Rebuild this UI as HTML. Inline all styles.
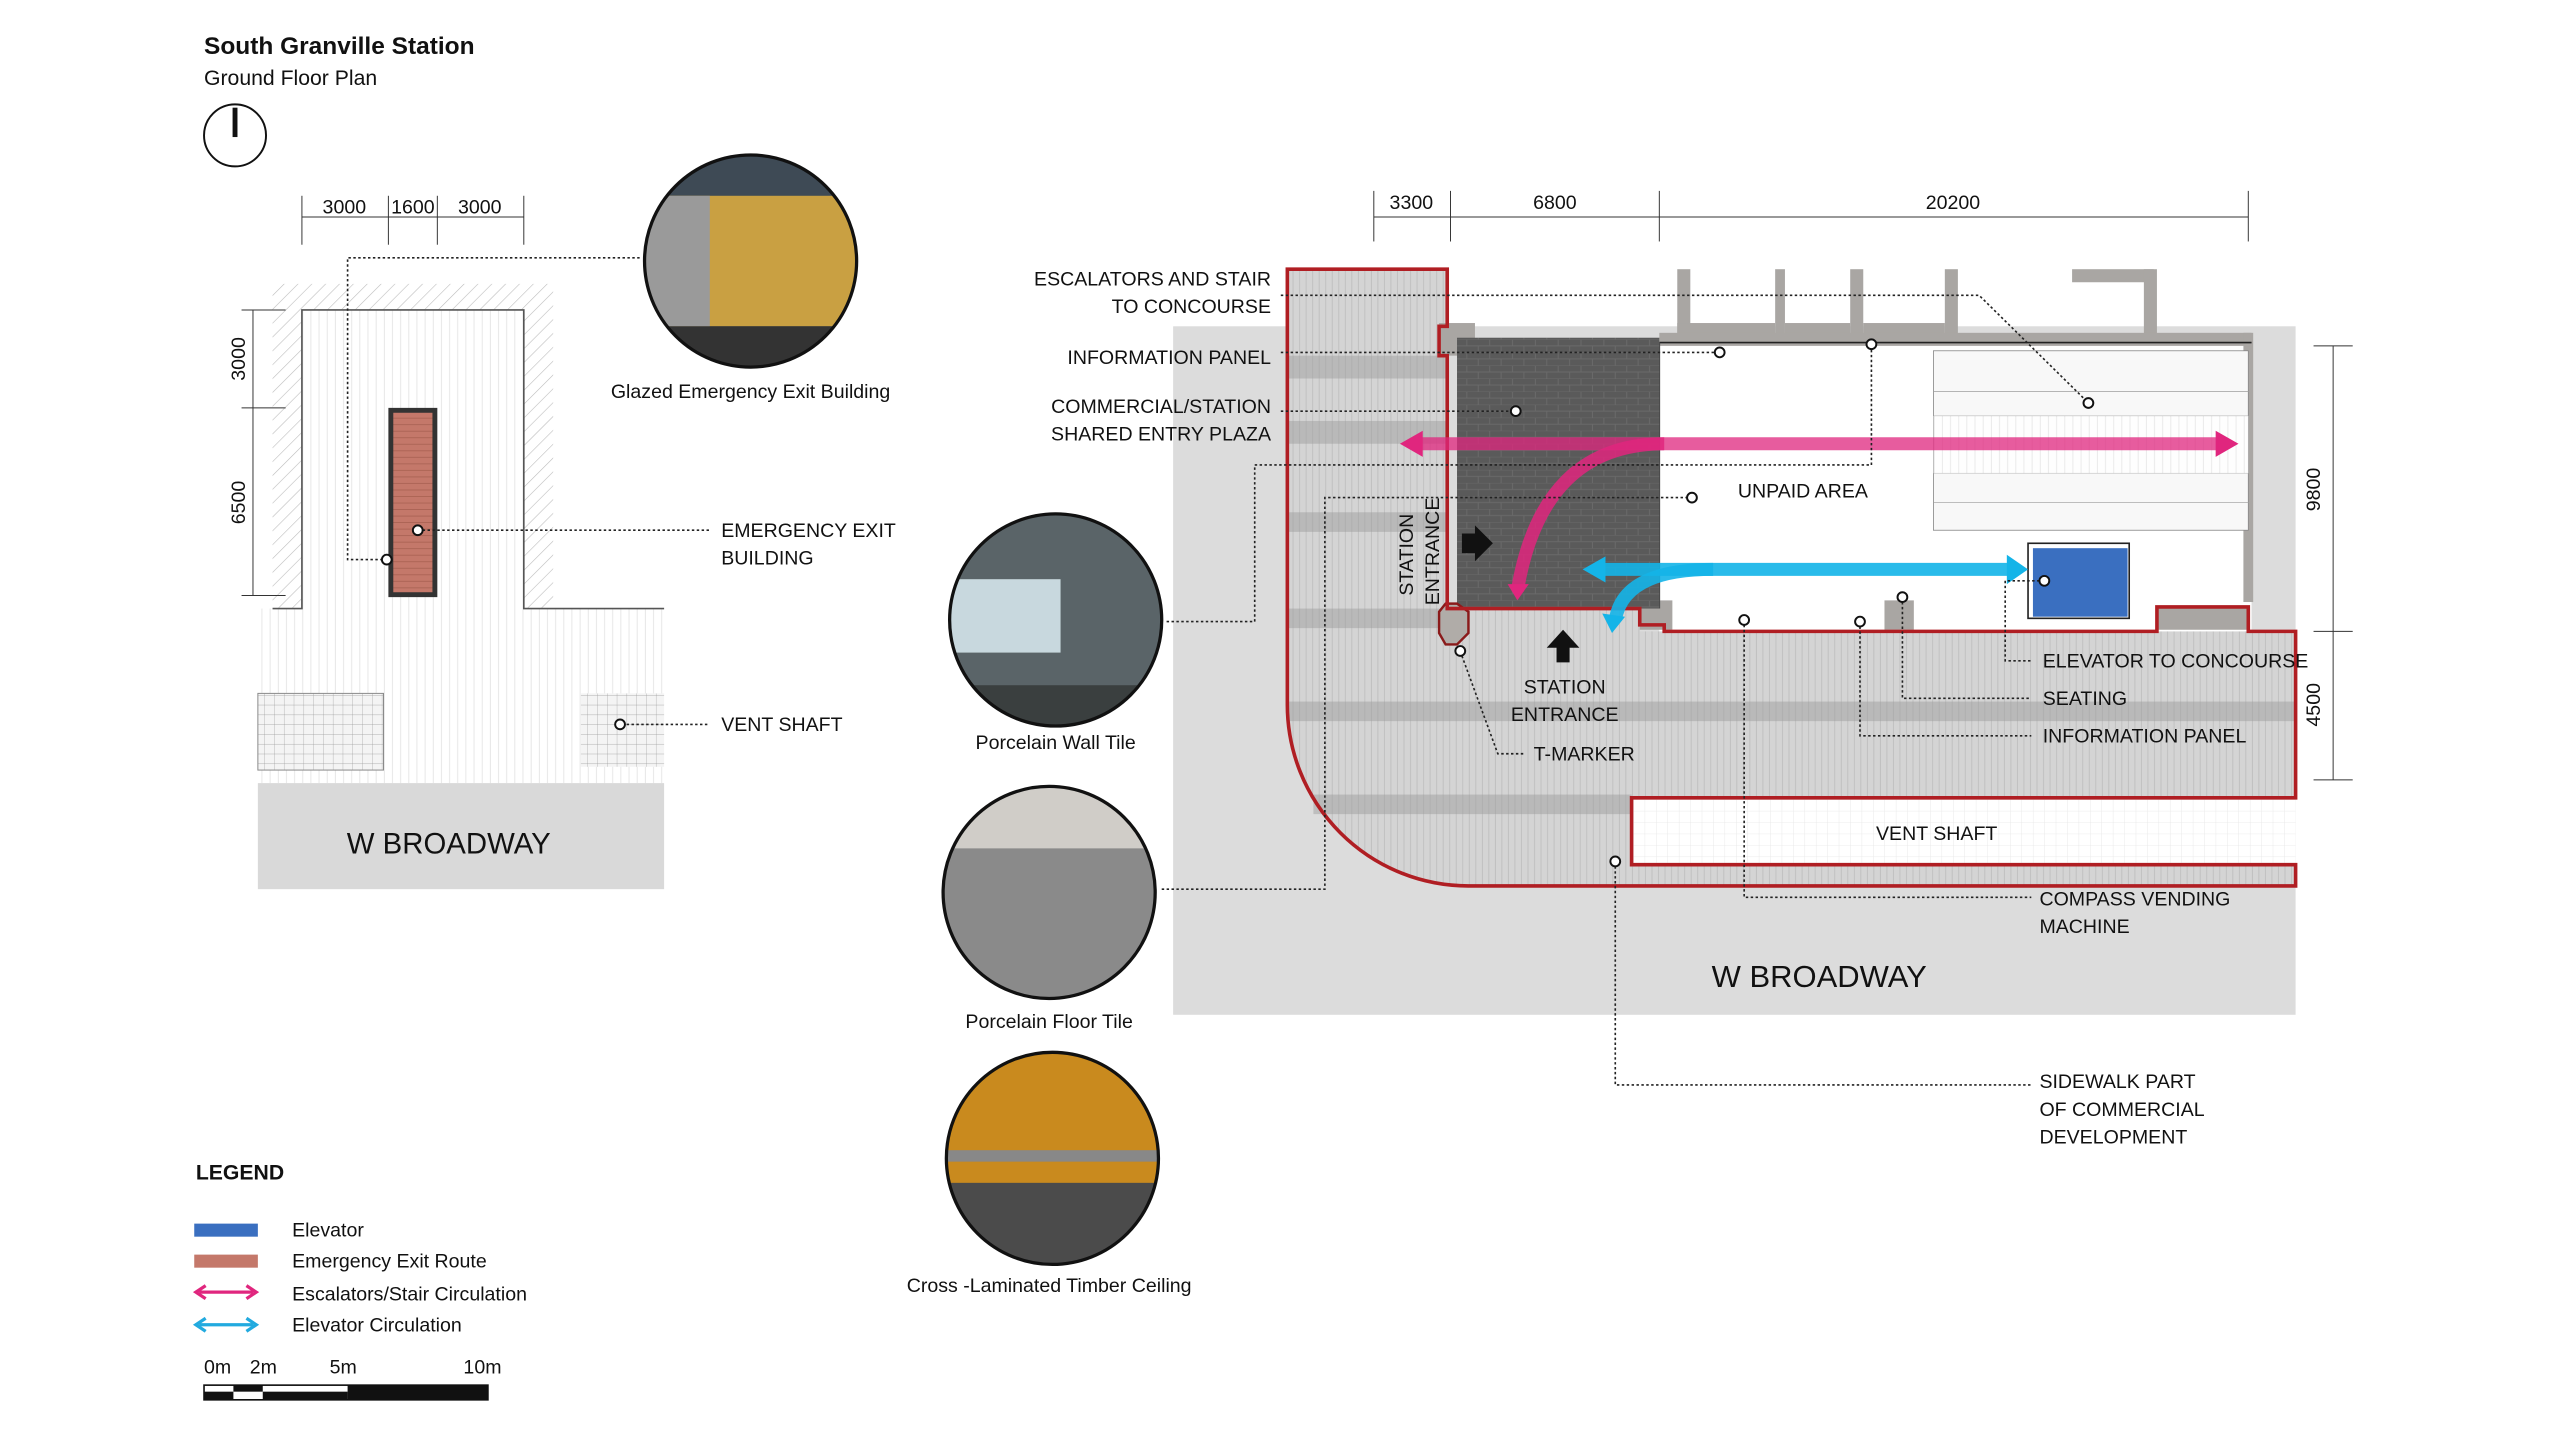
<!DOCTYPE html>
<html><head><meta charset="utf-8"><style>
html,body{margin:0;padding:0;background:#fff;}
svg{display:block;}
text{font-family:"Liberation Sans",sans-serif;fill:#111;}
.c{font-size:12px;}
</style></head><body>
<svg width="2560" height="1438" viewBox="0 0 1569 881.4" xmlns="http://www.w3.org/2000/svg">
<defs>
<pattern id="vl" width="4" height="10" patternUnits="userSpaceOnUse"><rect width="4" height="10" fill="#d4d4d4"/><line x1="0.5" y1="0" x2="0.5" y2="10" stroke="#bcbcbc" stroke-width="0.5"/></pattern>
<pattern id="vlw" width="5" height="10" patternUnits="userSpaceOnUse"><rect width="5" height="10" fill="#fff"/><line x1="0.5" y1="0" x2="0.5" y2="10" stroke="#e2e2e2" stroke-width="0.5"/></pattern>
<pattern id="hatch" width="6" height="6" patternUnits="userSpaceOnUse" patternTransform="rotate(45)"><rect width="6" height="6" fill="#fff"/><line x1="0" y1="0" x2="0" y2="6" stroke="#bbb" stroke-width="0.7"/></pattern>
<pattern id="grid" width="6" height="6" patternUnits="userSpaceOnUse"><rect width="6" height="6" fill="#f4f4f4"/><path d="M0 0H6M0 0V6" stroke="#999" stroke-width="0.4"/></pattern>
<pattern id="gridw" width="7" height="7" patternUnits="userSpaceOnUse"><rect width="7" height="7" fill="#fff"/><path d="M0 0H7M0 0V7" stroke="#e6e6e6" stroke-width="0.5"/></pattern>
<pattern id="brick" width="14" height="8" patternUnits="userSpaceOnUse"><rect width="14" height="8" fill="#5a5a5a"/><path d="M0 0H14M0 4H14M3 0V4M10 4V8" stroke="#6a6a6a" stroke-width="0.6"/></pattern>
<pattern id="redw" width="10" height="4" patternUnits="userSpaceOnUse"><rect width="10" height="4" fill="#c4786a"/><line x1="0" y1="0.3" x2="10" y2="0.3" stroke="#a86152" stroke-width="0.5"/></pattern>
<clipPath id="c1"><circle cx="460" cy="160" r="65"/></clipPath>
<clipPath id="c2"><circle cx="647" cy="380" r="65"/></clipPath>
<clipPath id="c3"><circle cx="643" cy="547" r="65"/></clipPath>
<clipPath id="c4"><circle cx="645" cy="710" r="65"/></clipPath>
</defs>

<text x="125" y="33" style="font-size:15px;font-weight:bold">South Granville Station</text>
<text x="125" y="52" style="font-size:13px">Ground Floor Plan</text>
<circle cx="144" cy="83" r="19" fill="none" stroke="#111" stroke-width="1.2"/>
<rect x="142.5" y="66" width="3" height="18" fill="#111"/>

<rect x="167" y="174" width="172" height="199" fill="url(#hatch)"/>
<rect x="158" y="373" width="249" height="107" fill="url(#vlw)"/>
<rect x="185" y="190" width="136" height="190" fill="url(#vlw)"/>
<path d="M167 373H185V190H321V373H407" fill="none" stroke="#555" stroke-width="1"/>
<rect x="238" y="250" width="30" height="116" fill="#333"/>
<rect x="241" y="253" width="24" height="110" fill="url(#redw)"/>
<rect x="158" y="425" width="77" height="47" fill="url(#grid)" stroke="#888" stroke-width="0.6"/>
<rect x="356" y="425" width="51" height="45" fill="url(#grid)"/>
<rect x="158" y="480" width="249" height="65" fill="#d9d9d9"/>
<text x="275" y="523" text-anchor="middle" style="font-size:18px">W BROADWAY</text>
<g stroke="#333" stroke-width="0.6">
<line x1="185" y1="133" x2="321" y2="133"/>
<line x1="185" y1="120" x2="185" y2="150"/><line x1="238" y1="120" x2="238" y2="150"/><line x1="268" y1="120" x2="268" y2="150"/><line x1="321" y1="120" x2="321" y2="150"/>
<line x1="155" y1="190" x2="155" y2="365"/>
<line x1="148" y1="190" x2="175" y2="190"/><line x1="148" y1="250" x2="175" y2="250"/><line x1="148" y1="365" x2="175" y2="365"/>
</g>
<text x="211" y="131" text-anchor="middle" class="c">3000</text>
<text x="253" y="131" text-anchor="middle" class="c">1600</text>
<text x="294" y="131" text-anchor="middle" class="c">3000</text>
<text transform="translate(150,220) rotate(-90)" text-anchor="middle" class="c">3000</text>
<text transform="translate(150,308) rotate(-90)" text-anchor="middle" class="c">6500</text>
<g fill="none" stroke="#222" stroke-width="1" stroke-dasharray="1.5 1.5">
<path d="M392 158H213V343H236"/>
<path d="M259 325H435"/>
<path d="M384 444H435"/>
</g>
<g fill="#fff" stroke="#111" stroke-width="1.2">
<circle cx="237" cy="343" r="3"/><circle cx="256" cy="325" r="3"/><circle cx="380" cy="444" r="3"/>
</g>
<text x="442" y="329" class="c">EMERGENCY EXIT</text>
<text x="442" y="346" class="c">BUILDING</text>
<text x="442" y="448" class="c">VENT SHAFT</text>

<g clip-path="url(#c1)">
<rect x="395" y="95" width="130" height="130" fill="#3e4a55"/>
<rect x="400" y="120" width="125" height="80" fill="#c9a042"/>
<rect x="395" y="120" width="40" height="80" fill="#9a9a9a"/>
<rect x="395" y="200" width="130" height="25" fill="#333"/>
</g>
<circle cx="460" cy="160" r="65" fill="none" stroke="#111" stroke-width="2"/>
<text x="460" y="244" text-anchor="middle" class="c">Glazed Emergency Exit Building</text>

<g clip-path="url(#c2)">
<rect x="580" y="315" width="135" height="135" fill="#5a6468"/>
<rect x="580" y="355" width="70" height="45" fill="#c8d8de"/>
<rect x="580" y="420" width="135" height="30" fill="#3a3f3f"/>
</g>
<circle cx="647" cy="380" r="65" fill="none" stroke="#111" stroke-width="2"/>
<text x="647" y="459" text-anchor="middle" class="c">Porcelain Wall Tile</text>
<g clip-path="url(#c3)">
<rect x="576" y="480" width="135" height="135" fill="#8a8a8a"/>
<rect x="576" y="480" width="135" height="40" fill="#d0cdc8"/>
</g>
<circle cx="643" cy="547" r="65" fill="none" stroke="#111" stroke-width="2"/>
<text x="643" y="630" text-anchor="middle" class="c">Porcelain Floor Tile</text>
<g clip-path="url(#c4)">
<rect x="578" y="643" width="135" height="135" fill="#c98a1e"/>
<rect x="578" y="725" width="135" height="55" fill="#4b4b4b"/>
<rect x="578" y="705" width="135" height="7" fill="#888"/>
</g>
<circle cx="645" cy="710" r="65" fill="none" stroke="#111" stroke-width="2"/>
<text x="643" y="792" text-anchor="middle" class="c">Cross -Laminated Timber Ceiling</text>

<text x="120" y="723" style="font-size:13px;font-weight:bold">LEGEND</text>
<rect x="119" y="750" width="39" height="8" fill="#3a6fc0"/>
<rect x="119" y="769" width="39" height="8" fill="#c4786a"/>
<g stroke-width="2" fill="none">
<path d="M122 792H155" stroke="#e0267e"/><path d="M126 788L120 792L126 796M151 788L157 792L151 796" stroke="#e0267e"/>
<path d="M122 812H155" stroke="#22aadf"/><path d="M126 808L120 812L126 816M151 808L157 812L151 816" stroke="#22aadf"/>
</g>
<text x="179" y="758" class="c">Elevator</text>
<text x="179" y="777" class="c">Emergency Exit Route</text>
<text x="179" y="797" class="c">Escalators/Stair Circulation</text>
<text x="179" y="816" class="c">Elevator Circulation</text>
<text x="125" y="842" class="c">0m</text><text x="153" y="842" class="c">2m</text><text x="202" y="842" class="c">5m</text><text x="284" y="842" class="c">10m</text>
<rect x="125" y="849" width="174" height="9" fill="#fff" stroke="#111" stroke-width="1"/>
<rect x="125" y="853" width="18" height="5" fill="#111"/><rect x="143" y="849" width="18" height="4" fill="#111"/><rect x="161" y="853" width="52" height="5" fill="#111"/><rect x="213" y="849" width="86" height="9" fill="#111"/>

<rect x="719" y="200" width="688" height="422" fill="#dcdcdc"/>
<path d="M789 165H887V373H1005V387H1407V489H1000V530H1407V543H900A111 111 0 0 1 789 432Z" fill="url(#vl)"/>
<g fill="#999" opacity="0.45">
<rect x="789" y="218" width="98" height="14"/><rect x="789" y="258" width="98" height="14"/><rect x="789" y="314" width="98" height="12"/><rect x="789" y="373" width="98" height="12"/>
<rect x="789" y="430" width="618" height="12"/><rect x="805" y="487" width="195" height="12"/>
</g>
<rect x="1000" y="489" width="407" height="41" fill="url(#gridw)"/>
<rect x="1017" y="210" width="363" height="177" fill="#fff"/>
<g fill="#a9a6a3">
<rect x="1028" y="165" width="8" height="40"/><rect x="1028" y="198" width="60" height="8"/><rect x="1088" y="165" width="6" height="40"/><rect x="1094" y="198" width="40" height="8"/><rect x="1134" y="165" width="8" height="43"/><rect x="1142" y="198" width="50" height="8"/><rect x="1192" y="165" width="8" height="43"/>
<rect x="1270" y="165" width="50" height="8"/><rect x="1314" y="165" width="8" height="40"/>
<rect x="1017" y="204" width="363" height="8"/>
<rect x="1375" y="204" width="6" height="165"/>
<rect x="882" y="198" width="22" height="20"/>
<rect x="1005" y="368" width="20" height="18"/>
<rect x="1155" y="368" width="18" height="18"/>
<rect x="1322" y="372" width="56" height="14"/>
</g>
<line x1="1017" y1="210" x2="1380" y2="210" stroke="#222" stroke-width="1"/>
<line x1="1017" y1="210" x2="1017" y2="373" stroke="#444" stroke-width="1"/>
<rect x="1185" y="215" width="193" height="110" fill="#f8f8f8" stroke="#888" stroke-width="0.5"/>
<g stroke="#aaa" stroke-width="0.5">
<line x1="1185" y1="240" x2="1378" y2="240"/><line x1="1185" y1="255" x2="1378" y2="255"/><line x1="1185" y1="290" x2="1378" y2="290"/><line x1="1185" y1="308" x2="1378" y2="308"/>
</g>
<rect x="1185" y="255" width="193" height="35" fill="url(#vlw)" opacity="0.8"/>
<rect x="893" y="207" width="124" height="166" fill="url(#brick)"/>
<path d="M893 370L900 375V388L893 395H886L882 388V375L886 370Z" fill="#b0aca8" stroke="#8a1a1a" stroke-width="1.5"/>
<rect x="1243" y="333" width="62" height="46" fill="none" stroke="#222" stroke-width="1"/>
<rect x="1246" y="336" width="58" height="42" fill="#3a6fc0"/>
<path d="M789 165H887V200H882V218H887V373H1005V383H1020V387H1322V372H1378V387H1407V489H1000V530H1407V543H900A111 111 0 0 1 789 432Z" fill="none" stroke="#b01e23" stroke-width="2.2"/>
<path d="M1020 272Q945 272 930 362" fill="none" stroke="#e0267e" stroke-width="8" opacity="0.85"/>
<path d="M924 358L930 368L937 358Z" fill="#e0267e"/>
<path d="M868 272H1362" stroke="#e0267e" stroke-width="8" opacity="0.75"/>
<path d="M872 264L858 272L872 280ZM1358 264L1372 272L1358 280Z" fill="#e0267e"/>
<path d="M1050 349Q995 349 990 380" fill="none" stroke="#14b4e8" stroke-width="8" opacity="0.9"/>
<path d="M982 376L988 388L996 378Z" fill="#14b4e8"/>
<path d="M982 349H1232" stroke="#14b4e8" stroke-width="8" opacity="0.9"/>
<path d="M984 341L970 349L984 357ZM1230 340L1243 349L1230 358Z" fill="#14b4e8"/>
<path d="M896 327H904V322L915 333L904 344V339H896Z" fill="#111"/>
<path d="M954 406V397H948L958 386L968 397H962V406Z" fill="#111"/>
<g stroke="#333" stroke-width="0.6">
<line x1="842" y1="133" x2="1378" y2="133"/>
<line x1="842" y1="117" x2="842" y2="148"/><line x1="889" y1="117" x2="889" y2="148"/><line x1="1017" y1="117" x2="1017" y2="148"/><line x1="1378" y1="117" x2="1378" y2="148"/>
<line x1="1430" y1="212" x2="1430" y2="478"/>
<line x1="1418" y1="212" x2="1442" y2="212"/><line x1="1418" y1="387" x2="1442" y2="387"/><line x1="1418" y1="478" x2="1442" y2="478"/>
</g>
<text x="865" y="128" text-anchor="middle" class="c">3300</text>
<text x="953" y="128" text-anchor="middle" class="c">6800</text>
<text x="1197" y="128" text-anchor="middle" class="c">20200</text>
<text transform="translate(1422,300) rotate(-90)" text-anchor="middle" class="c">9800</text>
<text transform="translate(1422,432) rotate(-90)" text-anchor="middle" class="c">4500</text>
<g fill="none" stroke="#222" stroke-width="1" stroke-dasharray="1.5 1.5">
<path d="M785 181H1213L1278 245"/>
<path d="M785 216H1051"/>
<path d="M785 252H926"/>
<path d="M715 381H769V285H1147V214"/>
<path d="M712 545H812V305H1034"/>
<path d="M896 402L918 462H935"/>
<path d="M1250 356H1229V405H1245"/>
<path d="M1166 369V428H1245"/>
<path d="M1140 384V451H1245"/>
<path d="M1069 383V550H1245"/>
<path d="M990 531V665H1245"/>
</g>
<g fill="#fff" stroke="#111" stroke-width="1.2">
<circle cx="1280" cy="247" r="3"/><circle cx="1054" cy="216" r="3"/><circle cx="1147" cy="211" r="3"/><circle cx="929" cy="252" r="3"/><circle cx="1037" cy="305" r="3"/><circle cx="895" cy="399" r="3"/><circle cx="1253" cy="356" r="3"/><circle cx="1166" cy="366" r="3"/><circle cx="1140" cy="381" r="3"/><circle cx="1069" cy="380" r="3"/><circle cx="990" cy="528" r="3"/>
</g>
<g text-anchor="end">
<text x="779" y="175" class="c">ESCALATORS AND STAIR</text>
<text x="779" y="192" class="c">TO CONCOURSE</text>
<text x="779" y="223" class="c">INFORMATION PANEL</text>
<text x="779" y="253" class="c">COMMERCIAL/STATION</text>
<text x="779" y="270" class="c">SHARED ENTRY PLAZA</text>
</g>
<text x="1105" y="305" text-anchor="middle" class="c">UNPAID AREA</text>
<text transform="translate(866,340) rotate(-90)" text-anchor="middle" class="c">STATION</text>
<text transform="translate(882,338) rotate(-90)" text-anchor="middle" class="c">ENTRANCE</text>
<text x="959" y="425" text-anchor="middle" class="c">STATION</text>
<text x="959" y="442" text-anchor="middle" class="c">ENTRANCE</text>
<text x="940" y="466" class="c">T-MARKER</text>
<text x="1252" y="409" class="c">ELEVATOR TO CONCOURSE</text>
<text x="1252" y="432" class="c">SEATING</text>
<text x="1252" y="455" class="c">INFORMATION PANEL</text>
<text x="1187" y="515" text-anchor="middle" class="c">VENT SHAFT</text>
<text x="1250" y="555" class="c">COMPASS VENDING</text>
<text x="1250" y="572" class="c">MACHINE</text>
<text x="1115" y="605" text-anchor="middle" style="font-size:19px">W BROADWAY</text>
<text x="1250" y="667" class="c">SIDEWALK PART</text>
<text x="1250" y="684" class="c">OF COMMERCIAL</text>
<text x="1250" y="701" class="c">DEVELOPMENT</text>
</svg>
</body></html>
